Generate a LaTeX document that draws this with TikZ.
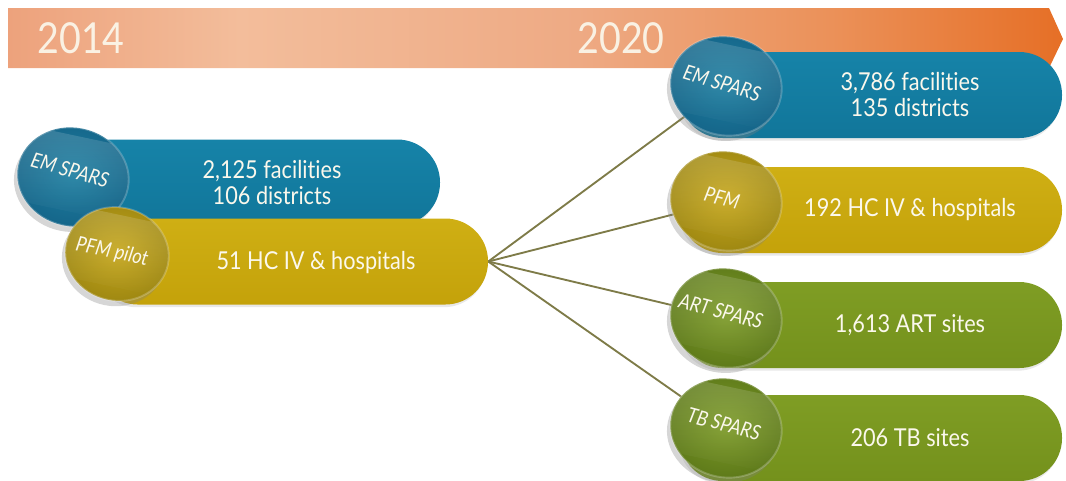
\documentclass[tikz,border=0pt]{standalone}
\usepackage{fontspec}
\setmainfont{Lato}[FakeStretch=0.88, Ligatures=NoCommon]
\usetikzlibrary{shadows,shapes.geometric,fadings}

\definecolor{peachA}{HTML}{EDA27C}
\definecolor{peachB}{HTML}{F3BD9B}
\definecolor{peachC}{HTML}{EEAA84}
\definecolor{orangeA}{HTML}{EB9159}
\definecolor{orangeB}{HTML}{E66F26}
\definecolor{emblueL}{HTML}{1683A8}
\definecolor{emblue}{HTML}{11769A}
\definecolor{emblueC}{HTML}{1E7FA1}
\definecolor{emblueD}{HTML}{15668A}
\definecolor{pfmgoldL}{HTML}{CFAF14}
\definecolor{pfmgold}{HTML}{C4A20A}
\definecolor{pfmgoldC}{HTML}{C6A71C}
\definecolor{pfmgoldD}{HTML}{A08912}
\definecolor{spgreenL}{HTML}{7F9D24}
\definecolor{spgreen}{HTML}{74911C}
\definecolor{spgreenC}{HTML}{7D9B28}
\definecolor{spgreenD}{HTML}{5F7B1A}
\definecolor{linkol}{HTML}{7E7B48}
\definecolor{softwhite}{HTML}{FBF8EC}

\pgfdeclarehorizontalshading{bannershade}{100bp}{%
  color(0bp)=(peachA); color(25bp)=(peachA); color(36bp)=(peachB);
  color(52bp)=(peachC); color(64bp)=(orangeA); color(75bp)=(orangeB);
  color(100bp)=(orangeB)}

\pgfdeclarelayer{back}
\pgfdeclarelayer{backmost}
\pgfsetlayers{backmost,back,main}

\tikzset{
  bar/.style={rectangle, rounded corners=32pt, minimum height=64.5pt, inner sep=0pt,
    drop shadow={shadow xshift=-1pt, shadow yshift=-2pt, opacity=0.18}},
  bluebar/.style={bar, top color=emblueL, bottom color=emblue},
  goldbar/.style={bar, top color=pfmgoldL, bottom color=pfmgold},
  greenbar/.style={bar, top color=spgreenL, bottom color=spgreen},
  badge/.style={ellipse, inner sep=0pt, minimum width=84pt, minimum height=74pt,
    rotate=-12, draw=white, draw opacity=0.22, line width=1.4pt,
    drop shadow={shadow xshift=-2.5pt, shadow yshift=-4pt, opacity=0.32},
    path picture={
      \fill[white, opacity=0.16, path fading=south]
        (path picture bounding box.north west) rectangle
        (path picture bounding box.south east);
    }},
  bluebadge/.style={badge, inner color=emblueC, outer color=emblueD},
  goldbadge/.style={badge, inner color=pfmgoldC, outer color=pfmgoldD},
  greenbadge/.style={badge, inner color=spgreenC, outer color=spgreenD},
  figs/.style={text=softwhite, font=\fontsize{18.5}{19.5}\selectfont, align=center},
  tag/.style={text=softwhite, font=\fontsize{15.5}{16}\selectfont\itshape},
  year/.style={text=softwhite, text opacity=0.92, font=\fontsize{32}{32}\selectfont},
  link/.style={draw=linkol, line width=1.4pt},
}

\begin{document}
\begin{tikzpicture}[x=0.75pt,y=-0.75pt]
  \useasboundingbox (0,0) rectangle (1066,480);

  % timeline banner
  \begin{pgfonlayer}{backmost}
    \path[shading=bannershade] (8,8) -- (1049,8) -- (1063,39) -- (1049,68) -- (8,68) -- cycle;
  \end{pgfonlayer}
  \node[year] (y2014) at (81,38) {2014};
  \node[year] (y2020) at (621,38) {2020};

  % 2014 situation
  \node[bluebar, minimum width=300pt] (emBar) at (240,182.5) {};
  \node[bluebadge] (emOld) at (73,177) {};
  \node[goldbar, minimum width=294.75pt] (pilotBar) at (291.5,261.5) {};
  \node[goldbadge, minimum width=78pt, minimum height=70pt] (pilotOld) at (117,254) {};
  \node[figs] (emOldTxt) at (272,183) {2,125 facilities\\106 districts};
  \node[figs] (pilotTxt) at (316,263) {51 HC IV \& hospitals};
  \node[tag, rotate=-16] (emOldTag) at (70,170) {EM SPARS};
  \node[tag, rotate=-12] (pilotTag) at (112,252) {PFM pilot};

  % 2020 situation
  \node[bluebar, minimum width=286.5pt] (emNewBar) at (871,95) {};
  \node[bluebadge] (emNew) at (726,86) {};
  \node[goldbar, minimum width=286.5pt] (pfmBar) at (871,210) {};
  \node[goldbadge] (pfmNew) at (726,201) {};
  \node[greenbar, minimum width=286.5pt] (artBar) at (871,325) {};
  \node[greenbadge] (artNew) at (726,318) {};
  \node[greenbar, minimum width=286.5pt] (tbBar) at (871,438) {};
  \node[greenbadge] (tbNew) at (726,428) {};

  \node[figs] (emNewTxt) at (910,95) {3,786 facilities\\135 districts};
  \node[figs] (pfmTxt) at (910,210) {192 HC IV \& hospitals};
  \node[figs] (artTxt) at (910,325) {1,613 ART sites};
  \node[figs] (tbTxt) at (910,438) {206 TB sites};
  \node[tag, rotate=-17] (emNewTag) at (722,83) {EM SPARS};
  \node[tag, rotate=-15] (pfmTag) at (722,198) {PFM};
  \node[tag, rotate=-15] (artTag) at (721,311) {ART SPARS};
  \node[tag, rotate=-15] (tbTag) at (724,424) {TB SPARS};

  % fan-out from the pilot to the 2020 programmes
  \begin{pgfonlayer}{back}
    \draw[link] (pilotBar.east) -- (emNew.center);
    \draw[link] (pilotBar.east) -- (pfmNew.center);
    \draw[link] (pilotBar.east) -- (artNew.center);
    \draw[link] (pilotBar.east) -- (tbNew.center);
  \end{pgfonlayer}
\end{tikzpicture}
\end{document}
